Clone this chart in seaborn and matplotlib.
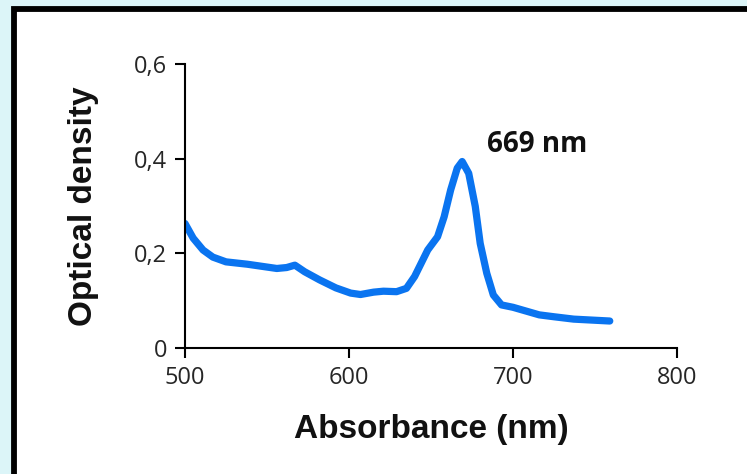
import matplotlib

matplotlib.use("Agg")
import matplotlib.pyplot as plt
import pandas as pd
import seaborn as sns
from matplotlib.patches import Rectangle

# spectrum
wavelength = [500, 505, 511, 517, 525, 538, 548, 556, 562, 567, 573, 582, 592, 601,
              607, 615, 621, 629, 635, 640, 644, 648, 654, 658, 662, 666, 669, 673,
              677, 680, 684, 688, 693, 700, 706, 716, 725, 737, 748, 759]
density = [0.263, 0.232, 0.207, 0.192, 0.182, 0.177, 0.172, 0.168, 0.170, 0.175,
           0.161, 0.144, 0.127, 0.116, 0.113, 0.118, 0.120, 0.119, 0.126, 0.151,
           0.179, 0.207, 0.235, 0.277, 0.334, 0.380, 0.394, 0.369, 0.299, 0.221,
           0.158, 0.112, 0.091, 0.086, 0.080, 0.070, 0.066, 0.061, 0.059, 0.057]
x_ticks = [500, 600, 700, 800]
y_ticks = [0, 0.2, 0.4, 0.6]
y_tick_labels = ["0", "0,2", "0,4", "0,6"]
peak_label = "669 nm"

df = pd.DataFrame({"wavelength": wavelength, "density": density})

sns.set_theme(style="ticks")
plt.rcParams["font.family"] = ["Open Sans", "DejaVu Sans"]

fig = plt.figure(figsize=(7.47, 4.74), dpi=100, facecolor="#dcf5f8")
fig.add_artist(
    Rectangle((13.5 / 747, -0.2), 1.5, 0.2 + 1 - 8.5 / 474, transform=fig.transFigure,
              facecolor="white", edgecolor="black", linewidth=4.2, zorder=0)
)

ax = fig.add_axes([185 / 747, 1 - 348 / 474, 492 / 747, 284 / 474])
ax.set_facecolor("none")
sns.lineplot(data=df, x="wavelength", y="density", ax=ax, sort=False,
             color="#0a74f0", linewidth=5.2, solid_capstyle="round", solid_joinstyle="round")

ax.set_xlim(500, 800)
ax.set_ylim(0, 0.6)
ax.set_xticks(x_ticks)
ax.set_yticks(y_ticks)
ax.set_yticklabels(y_tick_labels)
ax.tick_params(axis="both", direction="out", length=7, width=1.5, color="black",
               labelsize=17, labelcolor="#262626", pad=6)
sns.despine(ax=ax)
for side in ["left", "bottom"]:
    ax.spines[side].set_color("black")
    ax.spines[side].set_linewidth(1.5)

ax.set_xlabel("Absorbance (nm)", family="Liberation Sans", fontweight="bold",
              fontsize=24, labelpad=17, color="#111111")
ax.set_ylabel("Optical density", family="Liberation Sans", fontweight="bold",
              fontsize=24, labelpad=25, color="#111111")

ax.text(684, 0.43, peak_label, fontsize=20, fontweight="bold", color="#111111",
        va="center", ha="left")

fig.savefig("out.png", dpi=100, facecolor=fig.get_facecolor())
